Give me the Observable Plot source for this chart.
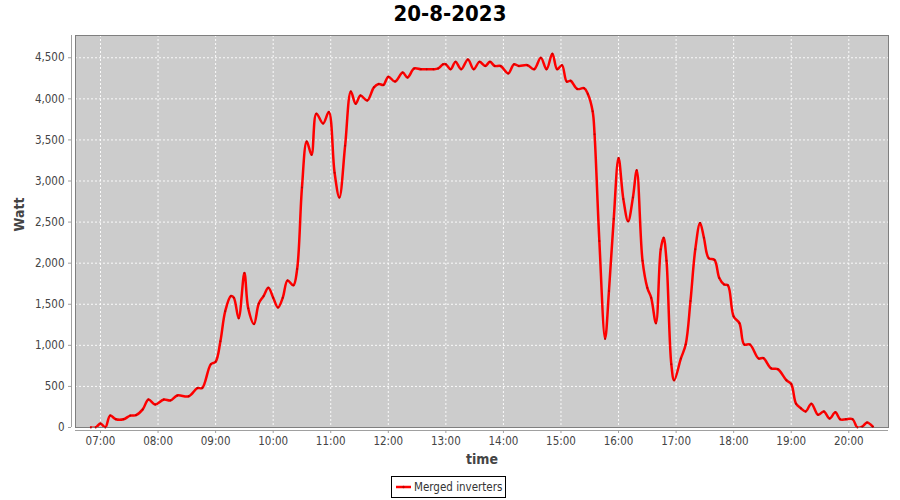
<!DOCTYPE html>
<html>
<head>
<meta charset="utf-8">
<script src="https://cdn.jsdelivr.net/npm/d3@7"></script>
<script src="https://cdn.jsdelivr.net/npm/@observablehq/plot@0.6"></script>
<style>
  html, body { margin: 0; padding: 0; background: #fff; }
  #wrap { position: relative; width: 900px; height: 500px; overflow: hidden; font-family: "DejaVu Sans Condensed", "DejaVu Sans", sans-serif; }
  #title { position: absolute; left: 0; top: 0; width: 900px; height: 30px; line-height: 28px; text-align: center;
           font-family: "DejaVu Sans Condensed", "DejaVu Sans", sans-serif; font-weight: bold; font-size: 22px; color: #000; }
  #chart { position: absolute; left: 0; top: 30px; }
  #legend { position: absolute; left: 391px; top: 476px; height: 20px; border: 1px solid #000; padding: 0 3px 0 3px;
            display: flex; align-items: center; font-size: 11.5px; color: #333; background: #fff; }
  #legend svg { margin-right: 2px; }
</style>
</head>
<body>
<div id="wrap">
  <div id="title"></div>
  <div id="chart"></div>
  <div id="legend"></div>
</div>
<script>
const chartTitle = "20-8-2023";
const seriesName = "Merged inverters";
const yLabel = "Watt";
const xLabel = "time";

const times = [
  "06:50","06:55","07:00","07:05","07:10","07:16","07:24","07:31","07:37","07:44",
  "07:50","07:57","08:06","08:13","08:20","08:32","08:41","08:46","08:55","09:00",
  "09:05","09:10","09:16","09:19","09:24","09:30","09:34","09:40","09:45","09:50",
  "09:55","10:00","10:05","10:10","10:15","10:21","10:25","10:30","10:35","10:40",
  "10:45","10:52","10:58","11:04","11:09","11:15","11:21","11:26","11:31","11:38",
  "11:45","11:50","11:55","12:00","12:07","12:15","12:20","12:27","12:34","12:40",
  "12:47","12:52","12:57","13:00","13:05","13:10","13:16","13:23","13:29","13:35",
  "13:41","13:46","13:51","13:57","14:05","14:11","14:16","14:25","14:32","14:39",
  "14:45","14:51","14:56","15:01","15:06","15:10","15:17","15:24","15:28","15:33",
  "15:35","15:40","15:46","15:50","15:55","16:00","16:05","16:10","16:15","16:19",
  "16:25","16:30","16:34","16:39","16:44","16:47","16:50","16:55","16:58","17:05",
  "17:10","17:15","17:20","17:25","17:29","17:34","17:40","17:45","17:50","17:54",
  "18:00","18:06","18:11","18:17","18:26","18:31","18:39","18:46","18:55","19:00",
  "19:05","19:10","19:15","19:21","19:28","19:34","19:40","19:46","19:51","19:57",
  "20:04","20:09","20:14","20:19","20:25"
];
const watts = [
  0, 0, 50, 0, 145, 100, 100, 145, 150, 220,
  340, 280, 340, 330, 390, 380, 480, 480, 770, 800,
  1050, 1415, 1600, 1580, 1330, 1880, 1450, 1260, 1510, 1600,
  1700, 1580, 1460, 1580, 1790, 1730, 1930, 2920, 3480, 3320,
  3820, 3700, 3840, 3100, 2800, 3430, 4090, 3940, 4040, 3980,
  4140, 4180, 4170, 4270, 4210, 4320, 4260, 4370, 4360, 4360,
  4360, 4370, 4420, 4420, 4360, 4450, 4360, 4480, 4360, 4450,
  4400, 4450, 4400, 4400, 4310, 4420, 4400, 4410, 4360, 4500,
  4360, 4550, 4360, 4410, 4210, 4220, 4120, 4130, 4060, 3850,
  3570, 2270, 1080, 1660, 2540, 3280, 2780, 2510, 2800, 3130,
  2030, 1700, 1580, 1270, 2170, 2310, 2030, 770, 575, 840,
  1010, 1540, 2170, 2490, 2310, 2060, 2040, 1820, 1740, 1730,
  1350, 1270, 1010, 1010, 840, 845, 720, 710, 575, 530,
  290, 235, 195, 290, 155, 195, 110, 185, 100, 100,
  100, 0, 10, 60, 10
];
const yTicks = [0, 500, 1000, 1500, 2000, 2500, 3000, 3500, 4000, 4500];
const xTickLabels = ["07:00","08:00","09:00","10:00","11:00","12:00","13:00","14:00","15:00","16:00","17:00","18:00","19:00","20:00"];

const toHour = s => { const [h, m] = s.split(":").map(Number); return h + m / 60; };
const data = times.map((t, i) => ({x: toHour(t), y: watts[i]}));
const xTicks = xTickLabels.map(toHour);
const xDomain = [6.5657, 20.690];
const yDomain = [0, 4771];

document.getElementById("title").textContent = chartTitle;

const grid = {stroke: "#ffffff", strokeOpacity: 0.9, strokeWidth: 1, strokeDasharray: "2,2"};
const font = "DejaVu Sans Condensed, DejaVu Sans, sans-serif";

const chart = Plot.plot({
  width: 900,
  height: 445,
  marginTop: 5,
  marginLeft: 75,
  marginRight: 12,
  marginBottom: 48,
  style: {fontFamily: font, fontSize: "11.5px", color: "#444", background: "transparent", overflow: "visible"},
  x: {domain: xDomain},
  y: {domain: yDomain},
  marks: [
    Plot.frame({fill: "#cccccc", stroke: null}),
    Plot.gridX(xTicks, grid),
    Plot.gridY(yTicks, grid),
    Plot.frame({stroke: "#7f7f7f", strokeWidth: 1}),
    Plot.ruleX([xDomain[0]], {dx: -4, stroke: "#a0a0a0"}),
    Plot.ruleY([yDomain[0]], {dy: 3, stroke: "#a0a0a0"}),
    Plot.axisY(yTicks, {tickFormat: d3.format(","), tickSize: 3, tickPadding: 4, dx: -4, label: null, stroke: "#a0a0a0", fill: "#444"}),
    Plot.axisX(xTicks, {tickFormat: d => xTickLabels[Math.round(d) - 7], tickSize: 3, tickPadding: 3, dy: 3, label: null, stroke: "#a0a0a0", fill: "#444"}),
    Plot.line(data, {x: "x", y: "y", stroke: "#ff0000", strokeWidth: 2.5, curve: "catmull-rom", clip: true}),
    Plot.dot(data, {x: "x", y: "y", r: 1, fill: "#c00000", stroke: null}),
    Plot.text([xLabel], {frameAnchor: "bottom", dy: 36, fontSize: 14, fontWeight: "bold", fill: "#444", text: d => d}),
    Plot.text([yLabel], {frameAnchor: "left", dx: -56, rotate: -90, fontSize: 14, fontWeight: "bold", fill: "#444", text: d => d})
  ]
});
document.getElementById("chart").appendChild(chart);

const lg = document.getElementById("legend");
lg.innerHTML = `<svg width="17" height="10"><line x1="1" y1="5" x2="16" y2="5" stroke="#ff0000" stroke-width="2.5"/><circle cx="8.5" cy="5" r="1.2" fill="#c00000"/></svg><span></span>`;
lg.querySelector("span").textContent = seriesName;
</script>
</body>
</html>
